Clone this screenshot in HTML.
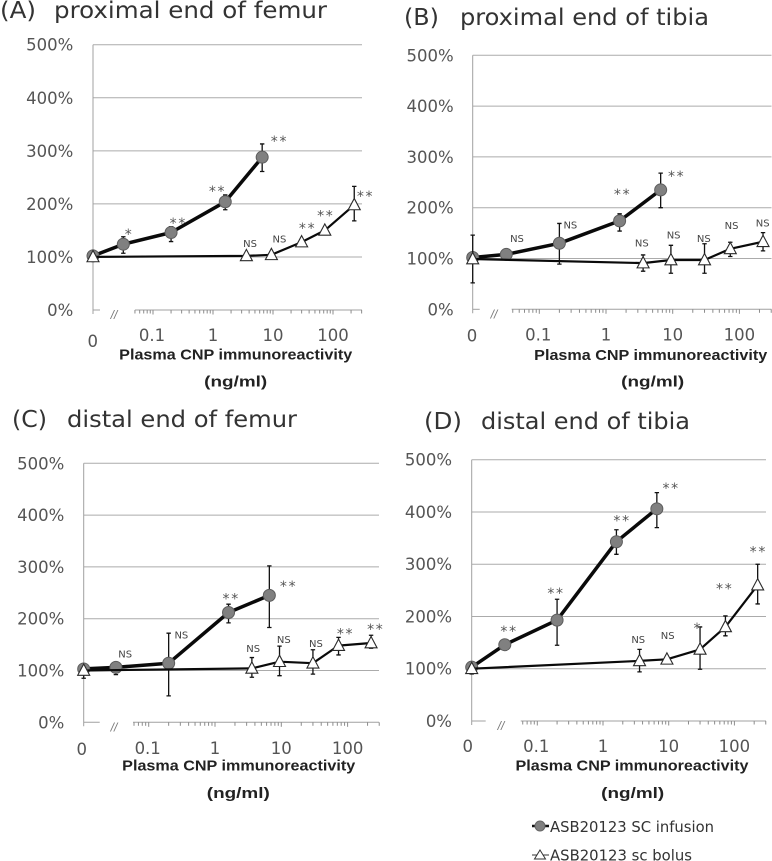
<!DOCTYPE html>
<html lang="en">
<head>
<meta charset="utf-8">
<title>Plasma CNP immunoreactivity</title>
<style>
html,body{margin:0;padding:0;background:#fff;width:772px;height:861px;overflow:hidden}
svg{display:block}
text{font-family:"DejaVu Sans","Liberation Sans",sans-serif;white-space:pre}
.title{font-size:23px;fill:#333}
.leg{font-size:15px;fill:#333}
</style>
</head>
<body>
<svg id="fig" xmlns="http://www.w3.org/2000/svg" width="772" height="861" viewBox="0 0 772 861">
  <text class="title" x="0" y="18" textLength="36" lengthAdjust="spacingAndGlyphs">(A)</text>
  <text class="title" x="54" y="18" textLength="273" lengthAdjust="spacingAndGlyphs">proximal end of femur</text>
  <text class="title" x="404" y="25" textLength="35" lengthAdjust="spacingAndGlyphs">(B)</text>
  <text class="title" x="460" y="25" textLength="249" lengthAdjust="spacingAndGlyphs">proximal end of tibia</text>
  <text class="title" x="12" y="427" textLength="35" lengthAdjust="spacingAndGlyphs">(C)</text>
  <text class="title" x="67" y="427" textLength="230" lengthAdjust="spacingAndGlyphs">distal end of femur</text>
  <text class="title" x="424" y="429" textLength="38" lengthAdjust="spacingAndGlyphs">(D)</text>
  <text class="title" x="481" y="429" textLength="209" lengthAdjust="spacingAndGlyphs">distal end of tibia</text>
  <g>
    <g>
      <line x1="532" y1="826" x2="549" y2="826" stroke="#111" stroke-width="2.5"/>
      <circle cx="540" cy="826" r="5" fill="#808080" stroke="#666" stroke-width="1"/>
      <text class="leg" x="550" y="832" textLength="164" lengthAdjust="spacingAndGlyphs">ASB20123 SC infusion</text>
    </g>
    <g>
      <line x1="532" y1="855" x2="549" y2="855" stroke="#333" stroke-width="1"/>
      <polygon points="540,850 545.5,859 534.5,859" fill="#fff" stroke="#333" stroke-width="1"/>
      <text class="leg" x="550" y="860.5" textLength="142" lengthAdjust="spacingAndGlyphs">ASB20123 sc bolus</text>
    </g>
  </g>
</svg>
<script>
// ---- shared data ----
const concInfusion = [0, 0.032, 0.2, 1.6, 6.6];
const concBolus = [0, 3.6, 9.4, 30, 73, 226];
const yTickValues = [0, 100, 200, 300, 400, 500];
const xTickLabels = ['0.1', '1', '10', '100'];
const xTickValues = [0.1, 1, 10, 100];

// ---- panel A ----
const aInfusion = [102, 124, 146, 204, 288];
const aInfusionHi = [106, 138, 157, 217, 313];
const aInfusionLo = [98, 107, 129, 189, 261];
const aInfusionSig = ['', '*', '**', '**', '**'];
const aBolus = [100, 102, 104, 128, 150, 198];
const aBolusHi = [100, 104, 106, 131, 153, 233];
const aBolusLo = [100, 100, 102, 125, 147, 168];
const aBolusSig = ['', 'NS', 'NS', '**', '**', '**'];

// ---- panel B ----
const bInfusion = [102, 108, 130, 174, 235];
const bInfusionHi = [104, 112, 169, 188, 268];
const bInfusionLo = [100, 103, 89, 154, 200];
const bInfusionSig = ['', 'NS', 'NS', '**', '**'];
const bBolus = [99, 91, 97, 97, 119, 133];
const bBolusHi = [146, 107, 126, 129, 132, 151];
const bBolusLo = [52, 75, 71, 71, 104, 115];
const bBolusSig = ['', 'NS', 'NS', 'NS', 'NS', 'NS'];

// ---- panel C ----
const cInfusion = [103, 106, 114, 212, 245];
const cInfusionHi = [106, 109, 172, 228, 302];
const cInfusionLo = [100, 92, 51, 192, 183];
const cInfusionSig = ['', 'NS', 'NS', '**', '**'];
const cBolus = [100, 104, 117, 114, 148, 153];
const cBolusHi = [103, 125, 147, 140, 164, 168];
const cBolusLo = [85, 87, 90, 93, 130, 143];
const cBolusSig = ['', 'NS', 'NS', 'NS', '**', '**'];

// ---- panel D ----
const dInfusion = [103, 146, 193, 343, 406];
const dInfusionHi = [106, 149, 233, 366, 437];
const dInfusionLo = [100, 143, 145, 319, 370];
const dInfusionSig = ['', '**', '**', '**', '**'];
const dBolus = [100, 115, 118, 137, 180, 260];
const dBolusHi = [103, 137, 122, 180, 201, 300];
const dBolusLo = [90, 94, 114, 99, 163, 224];
const dBolusSig = ['', 'NS', 'NS', '*', '**', '**'];

// ---- layout (not data) ----
const panels = [
  {id:'a', axisX:93, right:362, y500:44.7, y0:310, x1:213, dec:60, yLabelX:73.3, zeroX:92.7, zeroY:347, tickY:341,
   stub:7, breakX:114, axisStart:0.05,
   xTitleX:235.7, xTitleY:359.3, unitX:235.7, unitY:386.7,
   inf:aInfusion, infHi:aInfusionHi, infLo:aInfusionLo, infSig:aInfusionSig,
   bol:aBolus, bolHi:aBolusHi, bolLo:aBolusLo, bolSig:aBolusSig,
   infOff:[[0,0],[5,-12.3],[6.3,-11.7],[-8.7,-12.7],[16.3,-18]],
   bolOff:[[0,0],[3.7,-12.7],[8,-15.7],[5,-16],[0,-16.7],[10.3,-11]]},
  {id:'b', axisX:472.7, right:771.5, y500:55.3, y0:309.3, x1:606, dec:66.7, yLabelX:453.7, zeroX:472, zeroY:341.7, tickY:340.7,
   stub:7, breakX:494, axisStart:0.0385,
   xTitleX:650.7, xTitleY:360, unitX:652.7, unitY:386.7,
   inf:bInfusion, infHi:bInfusionHi, infLo:bInfusionLo, infSig:bInfusionSig,
   bol:bBolus, bolHi:bBolusHi, bolLo:bBolusLo, bolSig:bBolusSig,
   infOff:[[0,0],[10.7,-16],[11,-18.3],[2,-29],[15,-15.7]],
   bolOff:[[0,0],[-1.3,-20],[2.7,-25],[-0.7,-21.7],[1.3,-23.3],[-0.3,-18.7]]},
  {id:'c', axisX:83.7, right:379, y500:463.3, y0:722.3, x1:215, dec:66.3, yLabelX:64.3, zeroX:81.7, zeroY:755, tickY:754,
   stub:16, breakX:114, axisStart:0.058,
   xTitleX:238.7, xTitleY:770.7, unitX:238.3, unitY:798,
   inf:cInfusion, infHi:cInfusionHi, infLo:cInfusionLo, infSig:cInfusionSig,
   bol:cBolus, bolHi:cBolusHi, bolLo:cBolusLo, bolSig:cBolusSig,
   infOff:[[0,0],[9.3,-13.7],[12.7,-28.3],[1.7,-16],[18.3,-11.3]],
   bolOff:[[0,0],[1.3,-20],[4.3,-22.3],[3,-20],[6,-14],[3.7,-16]]},
  {id:'d', axisX:471.7, right:766, y500:459.7, y0:721, x1:603, dec:65.7, yLabelX:452, zeroX:467.7, zeroY:752, tickY:752,
   stub:14, breakX:501, axisStart:0.056,
   xTitleX:632, xTitleY:770.7, unitX:632.7, unitY:798,
   inf:dInfusion, infHi:dInfusionHi, infLo:dInfusionLo, infSig:dInfusionSig,
   bol:dBolus, bolHi:dBolusHi, bolLo:dBolusLo, bolSig:dBolusSig,
   infOff:[[0,0],[3.3,-15.7],[-2,-29],[4.7,-23],[13.3,-23]],
   bolOff:[[0,0],[-1.3,-21.7],[0.7,-23.7],[-3,-23.3],[-1.7,-40.3],[-0.3,-35.7]]}
];

const NS = 'http://www.w3.org/2000/svg';
const fig = document.getElementById('fig');
function mk(tag, parent, props, txt) {
  const e = document.createElementNS(NS, tag);
  for (const k in props) e.setAttribute(k, props[k]);
  if (txt !== undefined) e.textContent = txt;
  parent.appendChild(e);
  return e;
}

function drawSeries(g, p, xs, vals, hi, lo, sig, off, kind, sx, sy) {
  const width = kind === 'infusion' ? 3.5 : 2.2;
  const linePts = vals.map((v, i) => sx(xs[i]).toFixed(1) + ',' + sy(v).toFixed(1)).join(' ');
  vals.forEach((v, i) => {
    const x = sx(xs[i]);
    const bar = mk('path', g, {d:`M${x-2.2} ${sy(hi[i])}H${x+2.2}M${x} ${sy(hi[i])}V${sy(lo[i])}M${x-2.2} ${sy(lo[i])}H${x+2.2}`, fill:'none', stroke:'#111', 'stroke-width':1.3});
    
    
  });
  const line = mk('polyline', g, {points:linePts, fill:'none', stroke:'#0a0a0a', 'stroke-width':width, 'stroke-linejoin':'round'});
  
  
  vals.forEach((v, i) => {
    const x = sx(xs[i]), y = sy(v);
    let m;
    if (kind === 'infusion') {
      m = mk('circle', g, {cx:x, cy:y, r:6, fill:'#808080', stroke:'#5c5c5c', 'stroke-width':1});
    } else {
      m = mk('polygon', g, {points:`${x},${y-6.5} ${x+6},${y+4.8} ${x-6},${y+4.8}`, fill:'#fff', stroke:'#2a2a2a', 'stroke-width':1.1});
    }
    
    
  });
  sig.forEach((s, i) => {
    if (!s) return;
    const star = s.indexOf('*') >= 0;
    const t = mk('text', g, {
      x: sx(xs[i]) + off[i][0] + (star && s.length > 1 ? 1 : 0),
      y: sy(vals[i]) + off[i][1] + (star ? 7 : 3.6),
      'text-anchor':'middle',
      'font-size': star ? 14 : 10,
      'letter-spacing': star && s.length > 1 ? 1.7 : 0,
      fill: star ? '#555' : '#444'
    }, s);
    
    
  });
}

panels.forEach(p => {
  const sy = v => p.y0 - (p.y0 - p.y500) * v / 500;
  const sx = c => c === 0 ? p.axisX : p.x1 + Math.log10(c) * p.dec;

  const g = mk('g', fig, {});
  
  

  yTickValues.forEach(v => {
    if (v > 0) {
      const gl = mk('line', g, {x1:p.axisX, x2:p.right, y1:sy(v), y2:sy(v), stroke:'#ababab', 'stroke-width':1});
      
      
    }
    const t = mk('text', g, {x:p.yLabelX, y:sy(v) + 6, 'text-anchor':'end', 'font-size':16.5, fill:'#555'}, v + '%');
    
    
  });

  const yAxis = mk('line', g, {x1:p.axisX, x2:p.axisX, y1:p.y500, y2:p.y0 + 4, stroke:'#a0a0a0', 'stroke-width':1});
  
  

  const stub = mk('line', g, {x1:p.axisX, x2:p.axisX + p.stub, y1:p.y0, y2:p.y0, stroke:'#a0a0a0', 'stroke-width':1});
  
  

  const brk = mk('text', g, {x:p.breakX, y:p.y0 + 9, 'text-anchor':'middle', 'font-size':12, 'font-style':'italic', fill:'#777', style:'font-family:"Liberation Sans",sans-serif'}, '//');
  
  

  const xAxis = mk('line', g, {x1:sx(p.axisStart), x2:p.right, y1:p.y0, y2:p.y0, stroke:'#a0a0a0', 'stroke-width':1});
  
  

  [0.01, 0.1, 1, 10, 100].forEach(d => {
    for (let m = 1; m <= 9; m++) {
      const c = d * m;
      if (c < p.axisStart || c > 300.01) continue;
      const tk = mk('line', g, {x1:sx(c), x2:sx(c), y1:p.y0, y2:p.y0 + (m === 1 ? 4.5 : 3.5), stroke:'#8c8c8c', 'stroke-width':1});
      
      
    }
  });

  const z = mk('text', g, {x:p.zeroX, y:p.zeroY, 'text-anchor':'middle', 'font-size':16.5, fill:'#555'}, '0');
  
  
  xTickValues.forEach((c, i) => {
    const t = mk('text', g, {x:sx(c) + (c === 0.1 ? -1 : 0), y:p.tickY, 'text-anchor':'middle', 'font-size':16.5, fill:'#555'}, xTickLabels[i]);
    
    
  });

  const xt = mk('text', g, {x:p.xTitleX, y:p.xTitleY, 'text-anchor':'middle', 'font-size':15, 'font-weight':'bold', fill:'#222', textLength:233, lengthAdjust:'spacingAndGlyphs', style:'font-family:"Liberation Sans",sans-serif'}, 'Plasma CNP immunoreactivity');
  
  
  const xu = mk('text', g, {x:p.unitX, y:p.unitY, 'text-anchor':'middle', 'font-size':15, 'font-weight':'bold', fill:'#222', textLength:63, lengthAdjust:'spacingAndGlyphs', style:'font-family:"Liberation Sans",sans-serif'}, '(ng/ml)');
  
  

  drawSeries(g, p, concInfusion, p.inf, p.infHi, p.infLo, p.infSig, p.infOff, 'infusion', sx, sy);
  drawSeries(g, p, concBolus, p.bol, p.bolHi, p.bolLo, p.bolSig, p.bolOff, 'bolus', sx, sy);
});
</script>
</body>
</html>
